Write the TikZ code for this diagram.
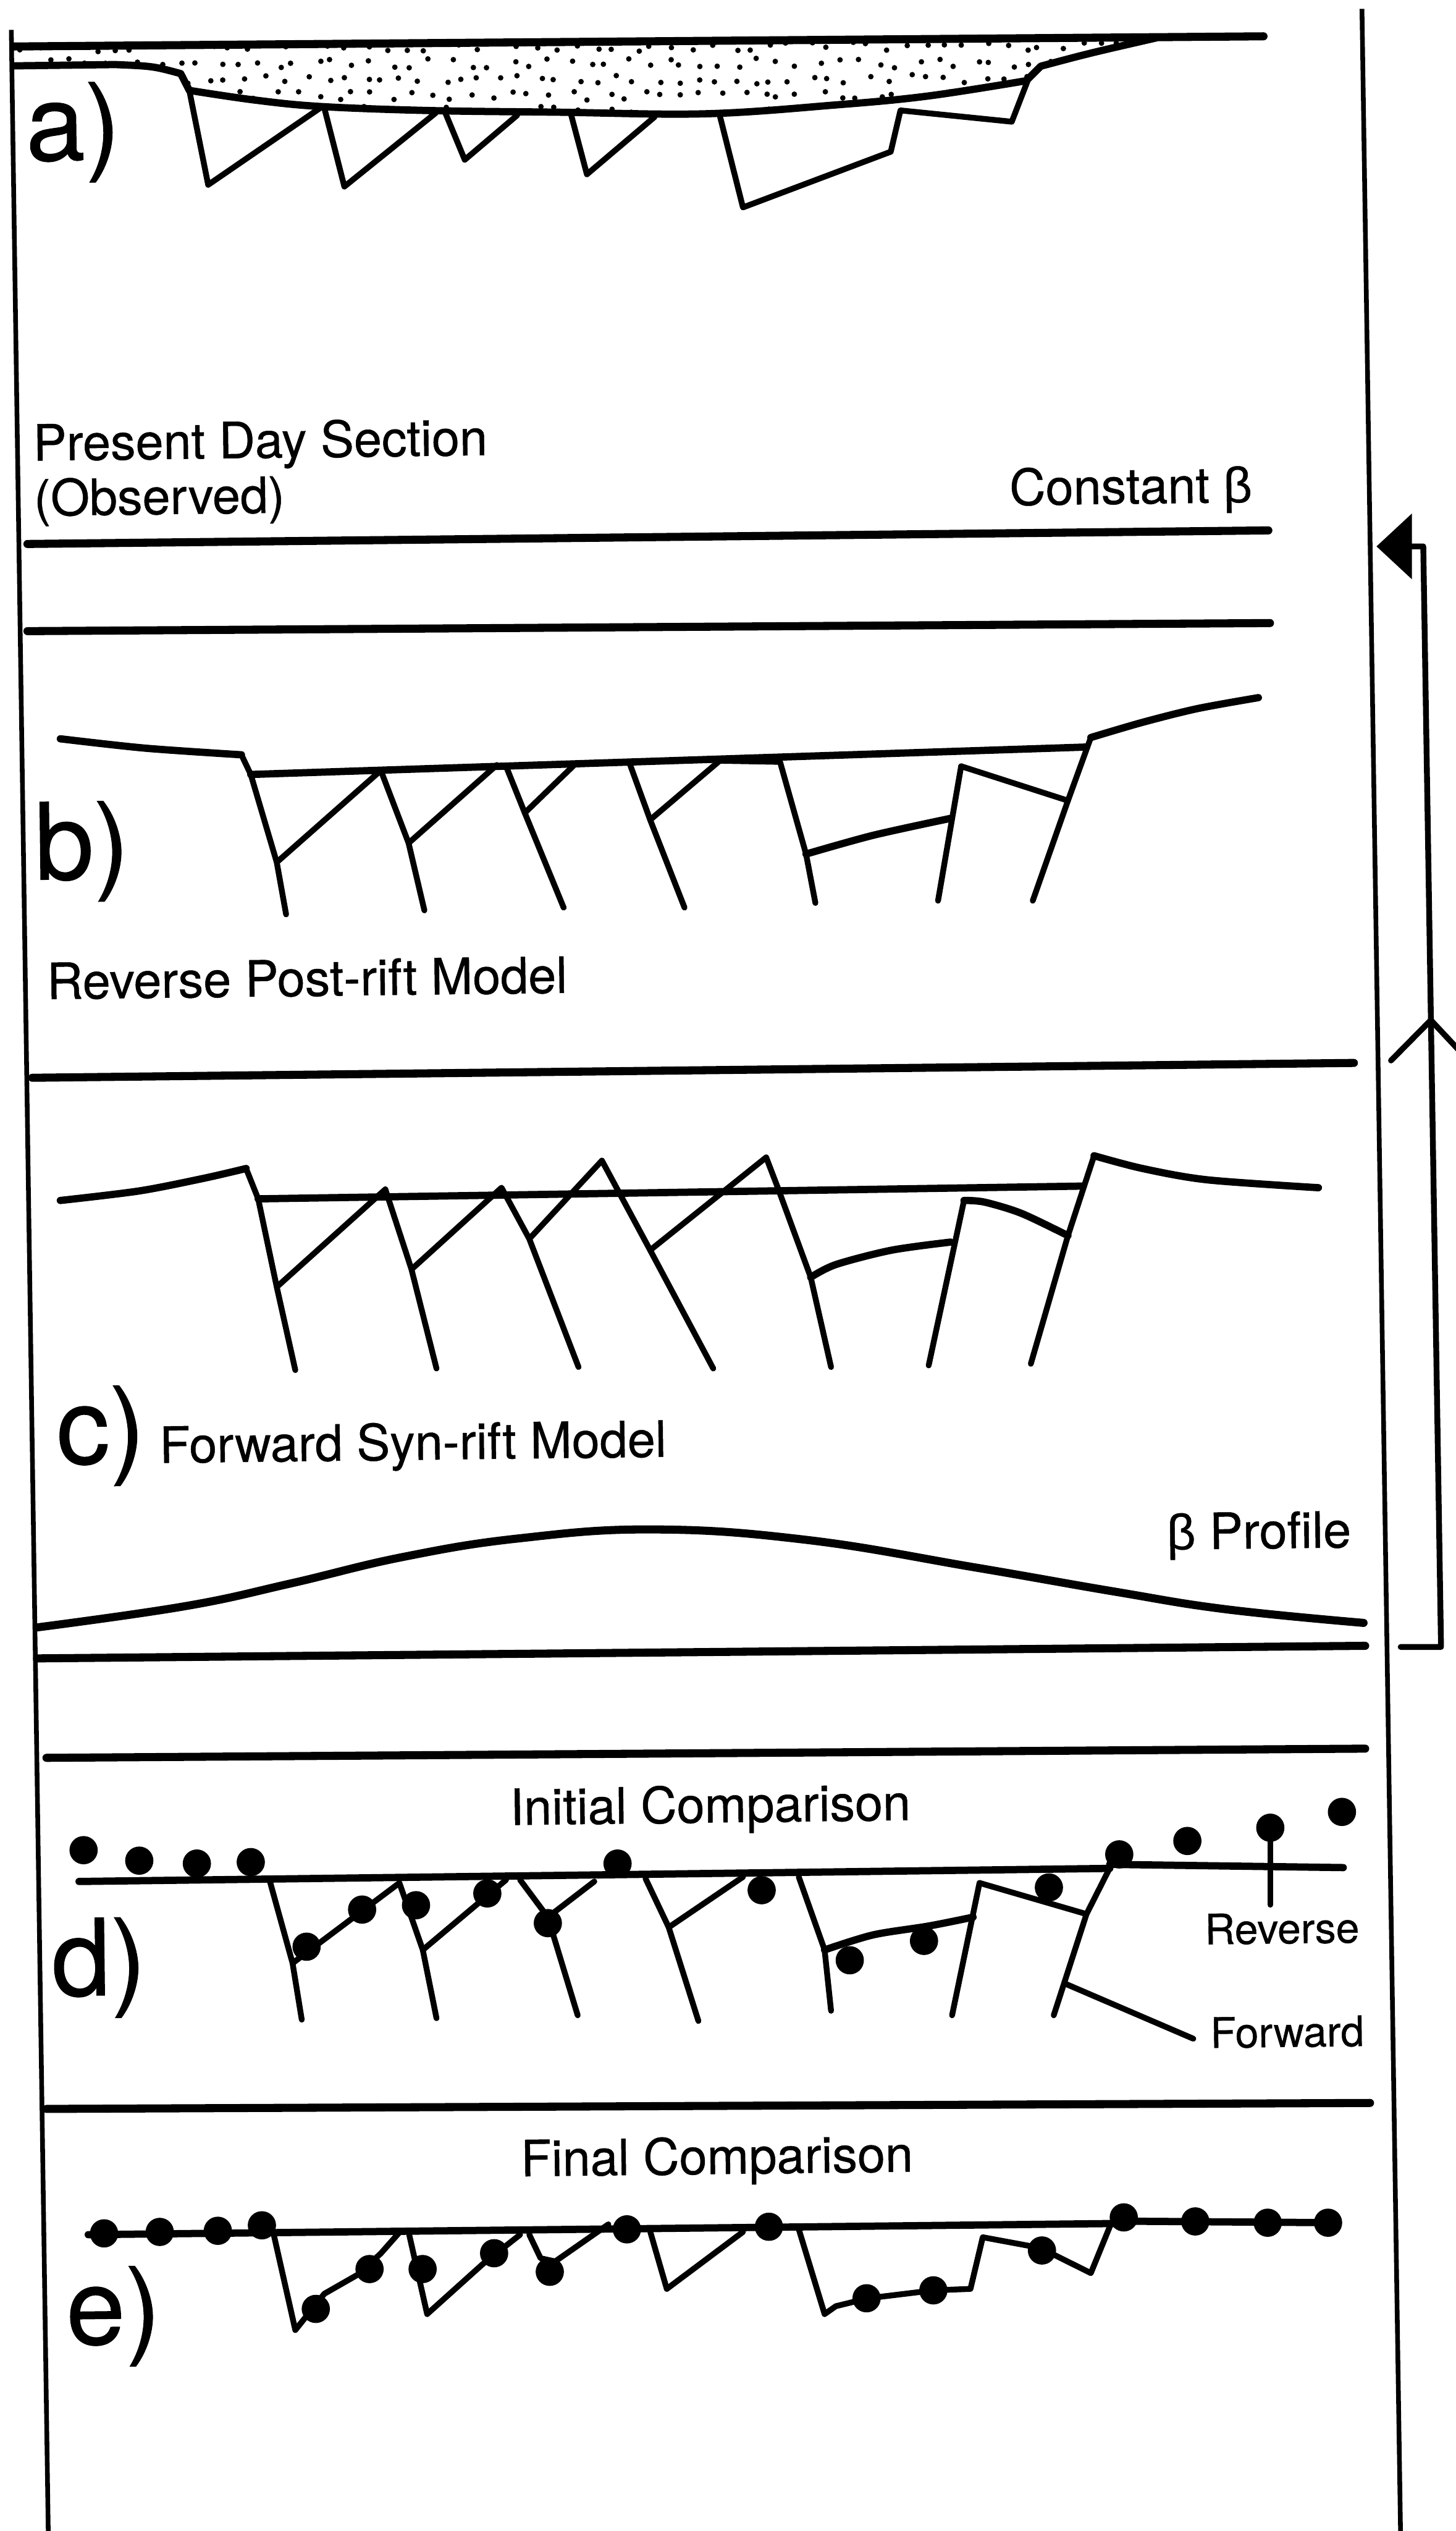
\documentclass[tikz,border=0pt]{standalone}
\usepackage{fontspec}
\setmainfont{TeX Gyre Heros}[FakeBold=0.6]
\newfontfamily\grk{Liberation Sans}[FakeBold=0.6]
\usetikzlibrary{arrows.meta}
\begin{document}
\begin{tikzpicture}[x=1pt,y=-1pt,
  fr/.style={line width=2.9pt},
  heavy/.style={line width=5pt,line cap=round},
  srf/.style={line width=4.5pt,line cap=round,line join=round},
  flt/.style={line width=3.6pt,line cap=round,line join=round},
  dotpt/.style={circle,fill=black,inner sep=0pt,minimum size=17.5pt},
  plabel/.style={font=\fontsize{66}{66}\selectfont,inner sep=0pt,anchor=base west,rotate=0.7},
  ctext/.style={font=\fontsize{31}{31}\selectfont,inner sep=0pt,anchor=base west,rotate=0.7},
  stext/.style={font=\fontsize{26}{26}\selectfont,inner sep=0pt,anchor=base west,rotate=0.7},
]
\fill[white] (0,0) rectangle (902,1568);
\useasboundingbox (0,0) rectangle (902,1568);

% outer frame
\coordinate (fl1) at (7,18.5);  \coordinate (fl2) at (30,1575);
\coordinate (fr1) at (844,5.5); \coordinate (fr2) at (868,1575);
\draw[fr] (fl1) -- (fl2);
\draw[fr] (fr1) -- (fr2);

% ---------- a) present day section ----------
\begin{scope}
  \clip (8.5,40.8) -- (71.4,40) .. controls (95,41) .. (112,45.6) -- (117.3,56)
    -- plot[smooth,tension=0.6] coordinates {(117.3,56) (158,62) (199,66) (266.6,68.5) (345,69.5) (437,70.5) (518,65) (575,59.5) (636,50)}
    -- (645,41) .. controls (675,33) .. (716.5,23.5) -- (8.5,28.8) -- cycle;
  \pgfmathsetseed{4}
  \foreach \gx in {0,...,59}{
    \foreach \gy in {0,...,4}{
      \pgfmathsetmacro\px{10+12*\gx+8*rnd-4+6*mod(\gy,2)}
      \pgfmathsetmacro\py{29+10*\gy+6*rnd-3}
      \fill (\px,\py) circle[radius=1.7];
    }}
\end{scope}
\draw[heavy] (8.5,28.8) -- (783,22.5);
\draw[srf] (8.5,40.8) -- (71.4,40) .. controls (95,41) .. (112,45.6) -- (117.3,56)
    -- plot[smooth,tension=0.6] coordinates {(117.3,56) (158,62) (199,66) (266.6,68.5) (345,69.5) (437,70.5) (518,65) (575,59.5) (636,50)}
    -- (645,41) .. controls (675,33) .. (716.5,23.5);
\draw[flt] (117.3,56) -- (129,114.5) -- (199,66.5);
\draw[flt] (201,67) -- (213.4,115.6) -- (270,70);
\draw[flt] (276,70) -- (288,99) -- (320.5,71.4);
\draw[flt] (354,71.4) -- (363.7,108) -- (405.7,72.4);
\draw[flt] (446,71.4) -- (460.4,128.5) -- (552,94) -- (558,68.4) -- (627,75.4) -- (637,49.6);
\node[plabel] (la) at (16,99.5) {a)};

\node[ctext] (present) at (20.5,285.4) {Present Day Section};
\node[ctext] (observed) at (21,319.5) {(Observed)};
\node[ctext] (constbeta) at (625.5,313) {Constant {\grk β}};
\draw[heavy] (17,337) -- (786,328.6);
\draw[heavy] (17,391) -- (787,386);

% ---------- b) reverse post-rift model ----------
\draw[srf] plot[smooth] coordinates {(37.4,457.7) (90,463.5) (149.6,467.6)};
\draw[srf] (155.4,479.8) -- (673.3,462.8);
\draw[srf] plot[smooth] coordinates {(676,456.9) (708,447.5) (742,439) (779.8,432.2)};
\draw[flt] (149.6,467.6) -- (155.4,479.8) -- (171.5,534.2) -- (177.3,566.5);
\draw[flt] (171.5,534.2) -- (236,477.3) -- (253.2,522.3) -- (263,564);
\draw[flt] (253.2,522.3) -- (307.9,473.9);
\draw[flt] (313.6,474.7) -- (325.2,503.6) -- (349.3,562.3);
\draw[flt] (325.2,503.6) -- (356.8,473);
\draw[flt] (390.2,473) -- (402.9,507.9) -- (424.2,562.3);
\draw[flt] (402.9,507.9) -- (446,471.3) -- (483.4,472) -- (499.5,529.1) -- (505.3,559.4);
\draw[srf] plot[smooth] coordinates {(499.5,529.1) (541,517.5) (589,507)};
\draw[flt] (595.6,474.7) -- (581.3,558);
\draw[flt] (595.6,474.7) -- (661.8,496);
\draw[flt] (676,456.9) -- (661.8,496) -- (640,558);
\node[plabel] (lb) at (21.5,545) {b)};
\node[ctext] (revpost) at (29,619) {Reverse Post-rift Model};
\draw[heavy] (20,667.7) -- (839,658.5);

% ---------- c) forward syn-rift model ----------
\draw[srf] plot[smooth] coordinates {(37.4,743.7) (86.3,737.8) (126.6,729.9) (152.5,723.9)};
\draw[srf] (160,742.7) -- (670.5,734.8);
\draw[srf] plot[smooth] coordinates {(678,716) (708,723.9) (748,730.9) (817,735.8)};
\draw[flt] (152.5,723.9) -- (160,742.7) -- (171.5,797.3) -- (183,848.8);
\draw[flt] (171.5,797.3) -- (238.8,736.8) -- (255,786.4) -- (270.5,847.8);
\draw[flt] (255,786.4) -- (310.8,735.8) -- (328,767.5) -- (358.5,846.9);
\draw[flt] (328,767.5) -- (373,719) -- (402.9,774.5) -- (442,847.8);
\draw[flt] (402.9,774.5) -- (474.8,717) -- (482,735.8) -- (502.4,791.3) -- (515,846.9);
\draw[srf] plot[smooth] coordinates {(502.4,791.3) (518,783.4) (552.5,774.5) (589,769.5)};
\draw[flt] (597.4,743.7) -- (575.5,845.9);
\draw[srf] plot[smooth] coordinates {(597.4,743.7) (610,744.7) (633,751.7) (661.8,765.5)};
\draw[flt] (678,716) -- (661.8,765.5) -- (638.8,844.9);
\node[plabel] (lc) at (35,907) {c)};
\node[ctext] (fwdsyn) at (98.8,906.3) {Forward Syn-rift Model};

% beta profile
\node[ctext] (betaprof) at (723,960) {{\grk β} Profile};
\draw[heavy] plot[smooth,tension=0.7] coordinates {(23,1008.2) (115,995) (180,981) (250,964.5) (322,953) (405,947.5) (500,954) (604,971) (690.6,986) (760,997) (845,1005.4)};
\draw[heavy] (23,1027.4) -- (846,1019.6);
\draw[heavy] (28.8,1089) -- (846,1083.3);

% ---------- d) initial comparison ----------
\node[ctext] (initcomp) at (316,1130.6) {Initial Comparison};
\draw[srf] (49,1165.6) -- (687.7,1157.5);
\draw[srf] (687.7,1155) -- (832.4,1157);
\draw[flt] (167,1164.6) -- (181.3,1216.2) -- (187,1251.2);
\draw[flt] (181.3,1216.2) -- (247.5,1166.5) -- (262,1208) -- (270.5,1250.3);
\draw[flt] (262,1208) -- (313.6,1164.6);
\draw[flt] (322.3,1164.6) -- (339.5,1187.7) -- (358,1248.5);
\draw[flt] (339.5,1187.7) -- (368.3,1165.6);
\draw[flt] (400,1163.7) -- (414.4,1194) -- (432.8,1252);
\draw[flt] (414.4,1194) -- (460.4,1162.8);
\draw[flt] (495,1162.8) -- (511,1208) -- (515,1245.7);
\draw[srf] plot[smooth] coordinates {(511,1208) (541,1198.7) (575.5,1193.2) (603,1187.7)};
\draw[flt] (607,1166.5) -- (590,1248.5);
\draw[flt] (607,1166.5) -- (673.3,1185.8);
\draw[flt] (687.7,1157.3) -- (673.3,1185.8) -- (653,1248.5);
\foreach \p [count=\i] in {(51.8,1146.2),(86.3,1152.7),(122,1154.5),(155.4,1153.6),(190,1206),(224.4,1183),(257.8,1180.3),(302,1173),(339.5,1191.4),(382.7,1154.5),(472,1171),(526.6,1214.4),(572.6,1202.4),(650,1169.3),(693.6,1148.8),(735.8,1140.5),(787.2,1132.3),(831.6,1122.5)}
  \node[dotpt] (dd\i) at \p {};
\coordinate (revstem) at (787.2,1180);
\draw[flt] (dd17.center) -- (revstem);
\coordinate (fwdA) at (660.3,1229);
\coordinate (fwdB) at (739.5,1263);
\draw[flt] (fwdA) -- (fwdB);
\node[stext] (reverse) at (746.5,1204.6) {Reverse};
\node[stext] (forward) at (750,1268.7) {Forward};
\node[plabel] (ld) at (32,1236.5) {d)};
\draw[heavy] (28.8,1306.5) -- (849,1302.8);

% ---------- e) final comparison ----------
\node[ctext] (finalcomp) at (322.7,1348.3) {Final Comparison};
\draw[srf] (54.7,1384.4) -- (690.6,1377.5);
\draw[srf] (690.6,1376) -- (828.7,1377);
\draw[flt] (169.8,1385) -- (183,1443.5) -- (201,1421) -- (222,1409) -- (236,1396) -- (247.5,1383);
\draw[flt] (253.2,1382.7) -- (264.7,1433.6) -- (299.3,1402.5) -- (322.3,1384.4);
\draw[flt] (328,1384.4) -- (335,1399) -- (344,1401) -- (377,1378);
\draw[flt] (403,1382.7) -- (413.2,1418) -- (460.4,1382.7);
\draw[flt] (495,1381) -- (511,1433.6) -- (518,1428.7) -- (538,1423.8) -- (578.4,1418.9) -- (601.4,1418) -- (609,1386) -- (644.6,1392.6) -- (676,1408.2) -- (687.7,1379.5);
\foreach \p [count=\i] in {(64.5,1383.6),(99,1382.7),(135,1382),(162.3,1378.6),(195.7,1430.4),(229,1405.7),(261.9,1405.7),(306.2,1395.9),(340.7,1407.4),(388.5,1381.1),(476.5,1379.5),(537,1423.8),(578.4,1418.9),(645.7,1394.2),(696.4,1373.7),(740.7,1376.2),(785.6,1377),(823,1377)}
  \node[dotpt] (de\i) at \p {};
\node[plabel] (le) at (41,1452.5) {e)};

% ---------- iteration arrow ----------
\coordinate (aS) at (868,1020.3);
\coordinate (aC) at (893,1020.3);
\coordinate (aT) at (882,338.5);
\coordinate (aTip) at (853,338.5);
\draw[flt,-{Triangle[length=22pt,width=40pt]}] (aS) -- (aC) -- (aT) -- (aTip);
\coordinate (chv) at (886.7,632);
\coordinate (chvL) at (862,657);
\coordinate (chvR) at (911,658);
\draw[flt] (chvL) -- (chv) -- (chvR);
\end{tikzpicture}
\end{document}
